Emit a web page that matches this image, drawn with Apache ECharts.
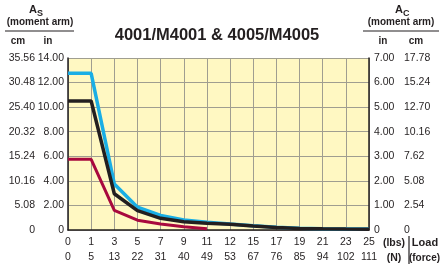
<!DOCTYPE html>
<html><head><meta charset="utf-8">
<script src="https://cdn.jsdelivr.net/npm/echarts@6/dist/echarts.min.js"></script>
<style>html,body{margin:0;padding:0;background:#fff}#c{width:440px;height:265px}</style>
</head><body><div id="c"></div>
<script>
// Tick labels
var lbsLabels = ['0','1','3','5','7','9','11','12','15','17','19','21','23','25'];
var newtonLabels = ['0','5','13','22','31','40','49','53','67','76','85','94','102','111'];
var leftInLabels = ['0','2.00','4.00','6.00','8.00','10.00','12.00','14.00'];
var leftCmLabels = ['0','5.08','10.16','15.24','20.32','25.40','30.48','35.56'];
var rightInLabels = ['0','1.00','2.00','3.00','4.00','5.00','6.00','7.00'];
var rightCmLabels = ['0','2.54','5.08','7.62','10.16','12.70','15.24','17.78'];
// Series values (inches of left As axis), x = category index 0..13
var xIndex = [0,1,2,3,4,5,6,7,8,9,10,11,12,13];
var cyanValues = [12.75,12.75,3.75,1.85,1.18,0.82,0.64,0.48,0.34,0.22,0.14,0.11,0.09,0.08];
var blackValues = [10.5,10.5,2.95,1.57,0.95,0.68,0.55,0.46,0.32,0.21,0.13,0.1,0.08,0.07];
var redValues = [5.75,5.75,1.6,0.8,0.48,0.27,0.1];

function pairs(v){ return v.map(function(y,i){ return [xIndex[i], y]; }); }

var chart = echarts.init(document.getElementById('c'), null, {renderer:'canvas'});
var txt = '#231f20';
var font = 'Liberation Sans, Arial, sans-serif';
var fs = 10.5;
chart.setOption({
  animation:false,
  textStyle:{fontFamily:font},
  grid:{left:68,right:71,top:58,bottom:33,show:true,backgroundColor:'#fff8c2',borderWidth:0},
  graphic:[
    {type:'text',style:{text:'4001/M4001 & 4005/M4005',x:217,y:35,align:'center',verticalAlign:'middle',font:'bold 16.5px Liberation Sans, Arial',fill:txt}},
    {type:'text',style:{text:'A',x:37,y:10,align:'right',verticalAlign:'middle',font:'bold 11px Liberation Sans, Arial',fill:txt}},
    {type:'text',style:{text:'S',x:37,y:14,align:'left',verticalAlign:'middle',font:'bold 9px Liberation Sans, Arial',fill:txt}},
    {type:'text',style:{text:'(moment arm)',x:40,y:22,align:'center',verticalAlign:'middle',font:'bold 10px Liberation Sans, Arial',fill:txt}},
    {type:'line',shape:{x1:5,y1:31,x2:74,y2:31},style:{stroke:txt,lineWidth:1.2}},
    {type:'text',style:{text:'cm',x:18,y:41,align:'center',verticalAlign:'middle',font:'bold 10px Liberation Sans, Arial',fill:txt}},
    {type:'text',style:{text:'in',x:48,y:41,align:'center',verticalAlign:'middle',font:'bold 10px Liberation Sans, Arial',fill:txt}},
    {type:'text',style:{text:'A',x:403,y:10,align:'right',verticalAlign:'middle',font:'bold 11px Liberation Sans, Arial',fill:txt}},
    {type:'text',style:{text:'C',x:403,y:14,align:'left',verticalAlign:'middle',font:'bold 9px Liberation Sans, Arial',fill:txt}},
    {type:'text',style:{text:'(moment arm)',x:401,y:22,align:'center',verticalAlign:'middle',font:'bold 10px Liberation Sans, Arial',fill:txt}},
    {type:'line',shape:{x1:363,y1:31,x2:439,y2:31},style:{stroke:txt,lineWidth:1.2}},
    {type:'text',style:{text:'in',x:383,y:41,align:'center',verticalAlign:'middle',font:'bold 10px Liberation Sans, Arial',fill:txt}},
    {type:'text',style:{text:'cm',x:416,y:41,align:'center',verticalAlign:'middle',font:'bold 10px Liberation Sans, Arial',fill:txt}},
    {type:'text',style:{text:'(lbs)',x:394,y:243,align:'center',verticalAlign:'middle',font:'bold 10.5px Liberation Sans, Arial',fill:txt}},
    {type:'text',style:{text:'(N)',x:394,y:258,align:'center',verticalAlign:'middle',font:'bold 10.5px Liberation Sans, Arial',fill:txt}},
    {type:'line',shape:{x1:409,y1:236,x2:409,y2:264},style:{stroke:txt,lineWidth:1.2}},
    {type:'text',style:{text:'Load',x:425,y:243,align:'center',verticalAlign:'middle',font:'bold 11px Liberation Sans, Arial',fill:txt}},
    {type:'text',style:{text:'(force)',x:424.5,y:258,align:'center',verticalAlign:'middle',font:'bold 10px Liberation Sans, Arial',fill:txt}}
  ],
  xAxis:{type:'value',min:0,max:13,interval:1,
    axisLine:{show:true,onZero:false,lineStyle:{color:txt,width:1.5}},
    axisTick:{show:false},
    splitLine:{show:true,lineStyle:{color:'#a09e90',width:1}},
    axisLabel:{margin:5,color:txt,fontSize:fs,lineHeight:15,fontFamily:font,
      formatter:function(v){ return lbsLabels[v]+'\n'+newtonLabels[v]; }}
  },
  yAxis:[
    {type:'value',position:'left',min:0,max:14,interval:2,
      axisLine:{show:true,lineStyle:{color:txt,width:1.5}},axisTick:{show:false},
      splitLine:{show:true,lineStyle:{color:'#a09e90',width:1}},
      axisLabel:{margin:4,color:txt,fontSize:fs,fontFamily:font,
        formatter:function(v){ var i=Math.round(v/2); return '{c|'+leftCmLabels[i]+'}{i|'+leftInLabels[i]+'}'; },
        rich:{c:{width:31,align:'right',fontSize:fs,color:txt},i:{width:29,align:'right',fontSize:fs,color:txt}}}
    },
    {type:'value',position:'right',min:0,max:7,interval:1,
      axisLine:{show:true,lineStyle:{color:txt,width:1.5}},axisTick:{show:false},
      splitLine:{show:false},
      axisLabel:{margin:5,color:txt,fontSize:fs,fontFamily:font,
        formatter:function(v){ var i=Math.round(v); return '{i|'+rightInLabels[i]+'}{c|'+rightCmLabels[i]+'}'; },
        rich:{i:{width:30,align:'left',fontSize:fs,color:txt},c:{width:30,align:'left',fontSize:fs,color:txt}}}
    }
  ],
  series:[
    {type:'line',data:pairs(cyanValues),yAxisIndex:0,symbol:'none',lineStyle:{color:'#1aaee5',width:3.5},z:2},
    {type:'line',data:pairs(blackValues),yAxisIndex:0,symbol:'none',lineStyle:{color:'#231f20',width:3.5},z:3},
    {type:'line',data:pairs(redValues),yAxisIndex:0,symbol:'none',lineStyle:{color:'#a8093e',width:3},z:4}
  ]
});
</script></body></html>
